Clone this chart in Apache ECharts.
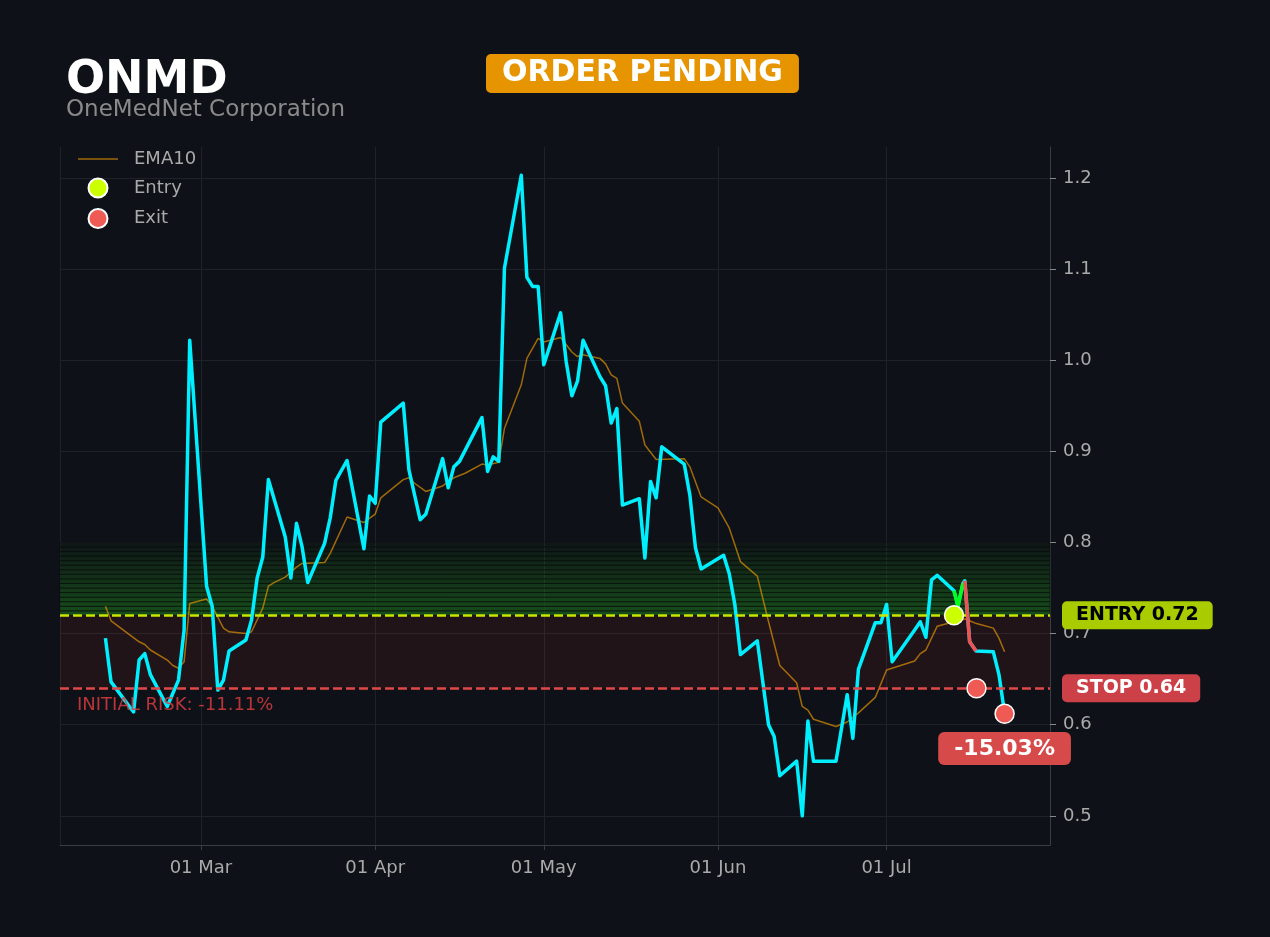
<!DOCTYPE html>
<html>
<head>
<meta charset="utf-8">
<title>ONMD</title>
<script src="https://cdn.jsdelivr.net/npm/echarts@6/dist/echarts.min.js"></script>
<style>
  html, body { margin: 0; padding: 0; background: #0e1117; }
  #chart { width: 1270px; height: 937px; }
</style>
</head>
<body>
<div id="chart"></div>
<script>
// price
const priceDates = [
  '2024-02-13', '2024-02-14', '2024-02-18', '2024-02-19', '2024-02-20', '2024-02-21', '2024-02-24',
  '2024-02-26', '2024-02-27', '2024-02-28', '2024-03-02', '2024-03-03', '2024-03-04', '2024-03-05',
  '2024-03-06', '2024-03-09', '2024-03-10', '2024-03-11', '2024-03-12', '2024-03-13', '2024-03-16',
  '2024-03-17', '2024-03-18', '2024-03-19', '2024-03-20', '2024-03-23', '2024-03-24', '2024-03-25',
  '2024-03-27', '2024-03-30', '2024-03-31', '2024-04-01', '2024-04-02', '2024-04-06', '2024-04-07',
  '2024-04-09', '2024-04-10', '2024-04-13', '2024-04-14', '2024-04-15', '2024-04-16', '2024-04-20',
  '2024-04-21', '2024-04-22', '2024-04-23', '2024-04-24', '2024-04-27', '2024-04-28', '2024-04-29',
  '2024-04-30', '2024-05-01', '2024-05-04', '2024-05-05', '2024-05-06', '2024-05-07', '2024-05-08',
  '2024-05-11', '2024-05-12', '2024-05-13', '2024-05-14', '2024-05-15', '2024-05-18', '2024-05-19',
  '2024-05-20', '2024-05-21', '2024-05-22', '2024-05-26', '2024-05-27', '2024-05-28', '2024-05-29',
  '2024-06-02', '2024-06-03', '2024-06-04', '2024-06-05', '2024-06-08', '2024-06-10', '2024-06-11',
  '2024-06-12', '2024-06-15', '2024-06-16', '2024-06-17', '2024-06-18', '2024-06-22', '2024-06-24',
  '2024-06-25', '2024-06-26', '2024-06-29', '2024-06-30', '2024-07-01', '2024-07-02', '2024-07-06',
  '2024-07-07', '2024-07-08', '2024-07-09', '2024-07-10', '2024-07-13', '2024-07-13 17:00',
  '2024-07-14 14:00', '2024-07-14 22:00', '2024-07-15 19:00', '2024-07-16 22:00', '2024-07-20',
  '2024-07-21', '2024-07-22'
];
const priceValues = [
  0.695, 0.647, 0.614, 0.671, 0.678, 0.655, 0.620,
  0.649, 0.704, 1.022, 0.752, 0.730, 0.638, 0.649,
  0.681, 0.693, 0.715, 0.761, 0.784, 0.869, 0.806,
  0.761, 0.821, 0.795, 0.756, 0.799, 0.827, 0.868,
  0.890, 0.793, 0.851, 0.843, 0.932, 0.953, 0.880,
  0.825, 0.831, 0.892, 0.860, 0.883, 0.889, 0.937,
  0.878, 0.894, 0.889, 1.101, 1.203, 1.091, 1.081,
  1.081, 0.995, 1.052, 0.998, 0.961, 0.977, 1.022,
  0.982, 0.972, 0.931, 0.947, 0.841, 0.848, 0.783,
  0.867, 0.849, 0.905, 0.886, 0.852, 0.794, 0.771,
  0.786, 0.766, 0.732, 0.677, 0.692, 0.600, 0.587,
  0.544, 0.560, 0.500, 0.604, 0.560, 0.560, 0.633,
  0.585, 0.661, 0.712, 0.712, 0.732, 0.669, 0.704,
  0.713, 0.696, 0.759, 0.764, 0.747, 0.730,
  0.755, 0.758, 0.691, 0.681, 0.680,
  0.655, 0.613
];

// EMA10
const emaDates = [
  '2024-02-13', '2024-02-14', '2024-02-19', '2024-02-20', '2024-02-21', '2024-02-24', '2024-02-25',
  '2024-02-26', '2024-02-27', '2024-02-28', '2024-03-02', '2024-03-03', '2024-03-05', '2024-03-06',
  '2024-03-09', '2024-03-10', '2024-03-12', '2024-03-13', '2024-03-14', '2024-03-16', '2024-03-18',
  '2024-03-19', '2024-03-23', '2024-03-24', '2024-03-27', '2024-03-30', '2024-04-01', '2024-04-02',
  '2024-04-06', '2024-04-07', '2024-04-08', '2024-04-10', '2024-04-13', '2024-04-15', '2024-04-17',
  '2024-04-20', '2024-04-21', '2024-04-23', '2024-04-24', '2024-04-27', '2024-04-28', '2024-04-30',
  '2024-05-01', '2024-05-04', '2024-05-06', '2024-05-07', '2024-05-08', '2024-05-11', '2024-05-12',
  '2024-05-13', '2024-05-14', '2024-05-15', '2024-05-18', '2024-05-19', '2024-05-21', '2024-05-26',
  '2024-05-27', '2024-05-29', '2024-06-01', '2024-06-03', '2024-06-05', '2024-06-08', '2024-06-10',
  '2024-06-12', '2024-06-15', '2024-06-16', '2024-06-17', '2024-06-18', '2024-06-22', '2024-06-24',
  '2024-06-26', '2024-06-29', '2024-07-01', '2024-07-06', '2024-07-07', '2024-07-08', '2024-07-10',
  '2024-07-13', '2024-07-15', '2024-07-17', '2024-07-20', '2024-07-21', '2024-07-22'
];
const emaValues = [
  0.730, 0.714, 0.691, 0.688, 0.682, 0.671, 0.665,
  0.662, 0.669, 0.733, 0.738, 0.730, 0.706, 0.702,
  0.700, 0.702, 0.728, 0.752, 0.756, 0.762, 0.773,
  0.777, 0.778, 0.788, 0.828, 0.822, 0.831, 0.849,
  0.869, 0.871, 0.865, 0.856, 0.862, 0.871, 0.876,
  0.886, 0.885, 0.888, 0.925, 0.973, 1.002, 1.024,
  1.020, 1.025, 1.009, 1.004, 1.006, 1.002, 0.996,
  0.984, 0.980, 0.953, 0.933, 0.907, 0.891, 0.892,
  0.883, 0.850, 0.838, 0.816, 0.779, 0.763, 0.713,
  0.665, 0.646, 0.620, 0.616, 0.606, 0.598, 0.603,
  0.613, 0.630, 0.660, 0.670, 0.678, 0.682, 0.708,
  0.713, 0.716, 0.711, 0.706, 0.695, 0.680
];

// trade segments drawn over the price
const winDates = ['2024-07-13', '2024-07-13 17:00', '2024-07-14 14:00'];
const winValues = [0.747, 0.730, 0.755];
const lossDates = ['2024-07-14 22:00', '2024-07-15 19:00', '2024-07-16 22:00'];
const lossValues = [0.758, 0.691, 0.681];

const entryDates = ['2024-07-13'];
const entryValues = [0.72];
const exitDates = ['2024-07-17', '2024-07-22'];
const exitValues = [0.64, 0.612];

const entryLevel = 0.72;
const stopLevel = 0.64;
const zoneTop = 0.80;
const initialRisk = '-11.11%';
const finalReturn = '-15.03%';

const monthNames = ['Jan', 'Feb', 'Mar', 'Apr', 'May', 'Jun', 'Jul', 'Aug', 'Sep', 'Oct', 'Nov', 'Dec'];

const zip = (xs, ys) => xs.map((x, i) => [x, ys[i]]);

// green band above entry: stacked thin strips, fading upward
const bandCount = 16;
const bands = [];
for (let i = 0; i < bandCount; i++) {
  const lo = entryLevel + (zoneTop - entryLevel) * i / bandCount;
  const hi = entryLevel + (zoneTop - entryLevel) * (i + 1) / bandCount;
  const a = 0.48 - (0.43 * i) / (bandCount - 1);
  bands.push([
    { yAxis: lo, itemStyle: { color: `rgba(34,139,34,${a.toFixed(3)})`, borderColor: 'rgba(8,14,10,0.6)', borderWidth: 1 } },
    { yAxis: hi }
  ]);
}
// red risk zone
bands.push([
  { yAxis: stopLevel, itemStyle: { color: 'rgba(220,50,50,0.09)', borderWidth: 0 } },
  { yAxis: entryLevel }
]);

const FONT = 'DejaVu Sans';
const chart = echarts.init(document.getElementById('chart'));

const option = {
  backgroundColor: '#0e1117',
  animation: false,
  textStyle: { fontFamily: FONT },
  title: [
    {
      text: 'ONMD', left: 61, top: 53,
      textStyle: { color: '#ffffff', fontSize: 46, fontWeight: 'bold', fontFamily: FONT }
    },
    {
      text: 'OneMedNet Corporation', left: 61, top: 94,
      textStyle: { color: '#8a8a8a', fontSize: 23, fontWeight: 'normal', fontFamily: FONT }
    },
    {
      text: 'ORDER PENDING', left: 486, top: 54,
      backgroundColor: '#e69500', borderRadius: 5, padding: [4, 16],
      textStyle: { color: '#ffffff', fontSize: 30, lineHeight: 31, fontWeight: 'bold', fontFamily: FONT }
    }
  ],
  legend: {
    left: 78, top: 150, orient: 'vertical', padding: 0,
    itemWidth: 40, itemHeight: 19, itemGap: 9.5,
    data: [
      { name: 'EMA10', icon: 'path://M0,0H40V1.6H0Z', itemStyle: { color: 'rgba(255,165,0,0.6)' } },
      'Entry',
      'Exit'
    ],
    textStyle: { color: '#aaaaaa', fontSize: 18, fontFamily: FONT, padding: [0, 0, 0, 11] }
  },
  grid: { left: 60, right: 220, top: 147, bottom: 92, containLabel: false },
  xAxis: {
    type: 'time',
    min: '2024-02-04 22:00',
    max: '2024-07-30 02:00',
    splitNumber: 5,
    axisLine: { show: true, lineStyle: { color: '#3a3d44', width: 1 } },
    axisTick: { show: true, length: 5, lineStyle: { color: '#3a3d44' } },
    axisLabel: {
      color: '#aaaaaa', fontSize: 18, margin: 14, fontFamily: FONT,
      formatter: (v) => {
        const d = new Date(v);
        return String(d.getDate()).padStart(2, '0') + ' ' + monthNames[d.getMonth()];
      }
    },
    splitLine: { show: true, lineStyle: { color: '#1f2228', width: 1 } },
    minorTick: { show: false }
  },
  yAxis: {
    type: 'value',
    position: 'right',
    min: 0.468,
    max: 1.234,
    splitNumber: 8,
    axisLine: { show: true, lineStyle: { color: '#3a3d44', width: 1 } },
    axisTick: { show: true, length: 6, lineStyle: { color: '#888888' } },
    axisLabel: {
      color: '#aaaaaa', fontSize: 18, margin: 13, fontFamily: FONT,
      showMinLabel: false, showMaxLabel: false,
      formatter: (v) => v.toFixed(1)
    },
    splitLine: { show: true, showMinLine: false, showMaxLine: false, lineStyle: { color: '#1f2228', width: 1 } }
  },
  series: [
    {
      name: 'EMA10',
      type: 'line',
      data: zip(emaDates, emaValues),
      showSymbol: false,
      symbol: 'none',
      z: 2,
      lineStyle: { color: 'rgba(255,165,0,0.6)', width: 1.5 },
      itemStyle: { color: 'rgba(255,165,0,0.6)' },
      markArea: { silent: true, data: bands },
      markLine: {
        silent: true,
        symbol: ['none', 'none'],
        data: [
          {
            yAxis: entryLevel,
            lineStyle: { color: '#c8e600', type: [9, 4], width: 2.5 },
            label: {
              show: true, position: 'end', distance: 12,
              formatter: 'ENTRY ' + entryLevel.toFixed(2),
              backgroundColor: '#a8cc00', color: '#000000', fontWeight: 'bold',
              fontSize: 19, fontFamily: FONT, padding: [5, 14, 4, 14], borderRadius: 5
            }
          },
          {
            yAxis: stopLevel,
            lineStyle: { color: '#e04848', type: [9, 4], width: 2.5 },
            label: {
              show: true, position: 'end', distance: 12,
              formatter: 'STOP ' + stopLevel.toFixed(2),
              backgroundColor: '#cc4148', color: '#ffffff', fontWeight: 'bold',
              fontSize: 19, fontFamily: FONT, padding: [5, 14, 4, 14], borderRadius: 5
            }
          }
        ]
      }
    },
    {
      name: 'Price',
      type: 'line',
      data: zip(priceDates, priceValues),
      showSymbol: false,
      symbol: 'none',
      z: 3,
      lineStyle: { color: '#00efff', width: 3.5, join: 'round' },
      markLine: {
        silent: true,
        symbol: ['none', 'none'],
        data: [
          {
            yAxis: stopLevel,
            lineStyle: { color: 'rgba(0,0,0,0)', width: 0.01 },
            label: {
              show: true, position: 'insideStartBottom', distance: [17, 8],
              formatter: 'INITIAL RISK: ' + initialRisk,
              color: 'rgba(215,60,62,0.85)', fontSize: 18, fontFamily: FONT
            }
          }
        ]
      }
    },
    {
      name: 'Win',
      type: 'line',
      data: zip(winDates, winValues),
      showSymbol: false,
      symbol: 'none',
      z: 4,
      lineStyle: { color: '#00ff1a', width: 3.5, join: 'round' }
    },
    {
      name: 'Loss',
      type: 'line',
      data: zip(lossDates, lossValues),
      showSymbol: false,
      symbol: 'none',
      z: 4,
      lineStyle: { color: '#f05252', width: 3.5, join: 'round' }
    },
    {
      name: 'Entry',
      type: 'scatter',
      data: zip(entryDates, entryValues),
      symbol: 'circle',
      symbolSize: 19,
      z: 5,
      itemStyle: { color: '#ccff00', borderColor: '#ffffff', borderWidth: 1.5, opacity: 1 }
    },
    {
      name: 'Exit',
      type: 'scatter',
      data: zip(exitDates, exitValues).map((p, i) => i === exitDates.length - 1 ? {
        value: p,
        label: {
          show: true, position: 'bottom', distance: 8,
          formatter: finalReturn,
          backgroundColor: '#d64a4a', color: '#ffffff', fontWeight: 'bold',
          fontSize: 22, fontFamily: FONT, padding: [6, 16, 5, 16], borderRadius: 6
        }
      } : p),
      symbol: 'circle',
      symbolSize: 19,
      z: 6,
      itemStyle: { color: '#f05a55', borderColor: '#ffffff', borderWidth: 1.5, opacity: 1 }
    }
  ]
};

chart.setOption(option);
</script>
</body>
</html>
